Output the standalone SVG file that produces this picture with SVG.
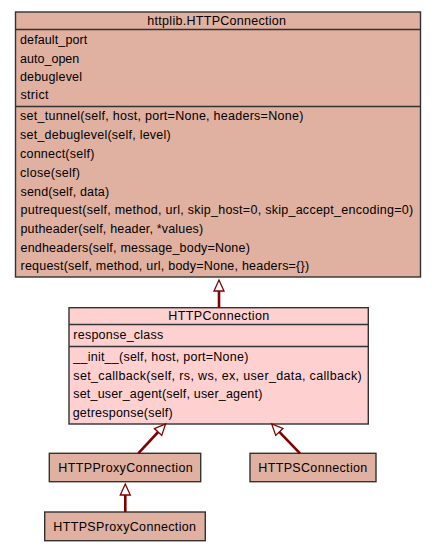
<svg xmlns="http://www.w3.org/2000/svg" width="435" height="552" viewBox="0 0 435 552">
<style>
.box{stroke:#333;stroke-width:1.4}
.base{fill:#e0b0a0}
.sel{fill:#ffd0d0}
.sep{stroke:#333;stroke-width:1.4}
text{font-family:"Liberation Sans",Arial,sans-serif;font-size:12.5px;fill:#000}
.c{text-anchor:middle}
.edge{stroke:#800000;stroke-width:2.6;fill:none}
</style>
<defs>
<marker id="inh" markerUnits="userSpaceOnUse" markerWidth="14" markerHeight="14" viewBox="-1 -7 14 14" refX="0" refY="0" orient="auto" overflow="visible">
<path d="M0,-5 L11,0 L0,5 Z" fill="#fff" stroke="#800000" stroke-width="1.3"/>
</marker>
</defs>
<rect width="435" height="552" fill="#fff"/>
<g id="httplib.HTTPConnection">
<rect class="box base" x="15.5" y="12" width="405" height="265"/>
<line class="sep" x1="15.5" y1="29.5" x2="420.5" y2="29.5"/>
<line class="sep" x1="15.5" y1="106.5" x2="420.5" y2="106.5"/>
<text class="c" x="216.7" y="24.5" textLength="138.7" lengthAdjust="spacing">httplib.HTTPConnection</text>
<text x="20" y="44" textLength="67.3" lengthAdjust="spacing">default_port</text>
<text x="20" y="62.5" textLength="59.3" lengthAdjust="spacing">auto_open</text>
<text x="20" y="81" textLength="62" lengthAdjust="spacing">debuglevel</text>
<text x="20.5" y="99.3" textLength="28" lengthAdjust="spacing">strict</text>
<text x="20" y="120" textLength="283.3" lengthAdjust="spacing">set_tunnel(self, host, port=None, headers=None)</text>
<text x="20" y="139" textLength="150.7" lengthAdjust="spacing">set_debuglevel(self, level)</text>
<text x="20" y="158" textLength="74.3" lengthAdjust="spacing">connect(self)</text>
<text x="20" y="176.5" textLength="60" lengthAdjust="spacing">close(self)</text>
<text x="20.5" y="195.5" textLength="88.6" lengthAdjust="spacing">send(self, data)</text>
<text x="20.5" y="214" textLength="392.6" lengthAdjust="spacing">putrequest(self, method, url, skip_host=0, skip_accept_encoding=0)</text>
<text x="20.5" y="232.5" textLength="182.6" lengthAdjust="spacing">putheader(self, header, *values)</text>
<text x="20.5" y="251.5" textLength="229.3" lengthAdjust="spacing">endheaders(self, message_body=None)</text>
<text x="20.5" y="270" textLength="288.6" lengthAdjust="spacing">request(self, method, url, body=None, headers={})</text>
</g>
<g id="HTTPConnection">
<rect class="box sel" x="69" y="307.7" width="299.3" height="116.3"/>
<line class="sep" x1="69" y1="324.5" x2="368.3" y2="324.5"/>
<line class="sep" x1="69" y1="346.5" x2="368.3" y2="346.5"/>
<text class="c" x="218.8" y="319.5" textLength="101" lengthAdjust="spacing">HTTPConnection</text>
<text x="73.3" y="338.8" textLength="90" lengthAdjust="spacing">response_class</text>
<text x="73.3" y="360.5" textLength="175" lengthAdjust="spacing">__init__(self, host, port=None)</text>
<text x="73.3" y="379.5" textLength="288.4" lengthAdjust="spacing">set_callback(self, rs, ws, ex, user_data, callback)</text>
<text x="73.3" y="398" textLength="189" lengthAdjust="spacing">set_user_agent(self, user_agent)</text>
<text x="72.7" y="416.5" textLength="100" lengthAdjust="spacing">getresponse(self)</text>
</g>
<g id="HTTPProxyConnection">
<rect class="box base" x="49.3" y="453.3" width="151.4" height="28.4"/>
<text class="c" x="125.5" y="472" textLength="134.4" lengthAdjust="spacing">HTTPProxyConnection</text>
</g>
<g id="HTTPSConnection">
<rect class="box base" x="250" y="453.3" width="126" height="28.4"/>
<text class="c" x="312.8" y="472" textLength="109" lengthAdjust="spacing">HTTPSConnection</text>
</g>
<g id="HTTPSProxyConnection">
<rect class="box base" x="44.7" y="512" width="160.6" height="28.7"/>
<text class="c" x="124.7" y="530.5" textLength="142.7" lengthAdjust="spacing">HTTPSProxyConnection</text>
</g>
<g id="connectors">
<path class="edge" d="M219,307.7 L219,291" marker-end="url(#inh)"/>
<path class="edge" d="M138.3,453.3 L158.1,432" marker-end="url(#inh)"/>
<path class="edge" d="M300,453.3 L279.3,431.9" marker-end="url(#inh)"/>
<path class="edge" d="M125.3,512 L125.3,495" marker-end="url(#inh)"/>
</g>
</svg>
